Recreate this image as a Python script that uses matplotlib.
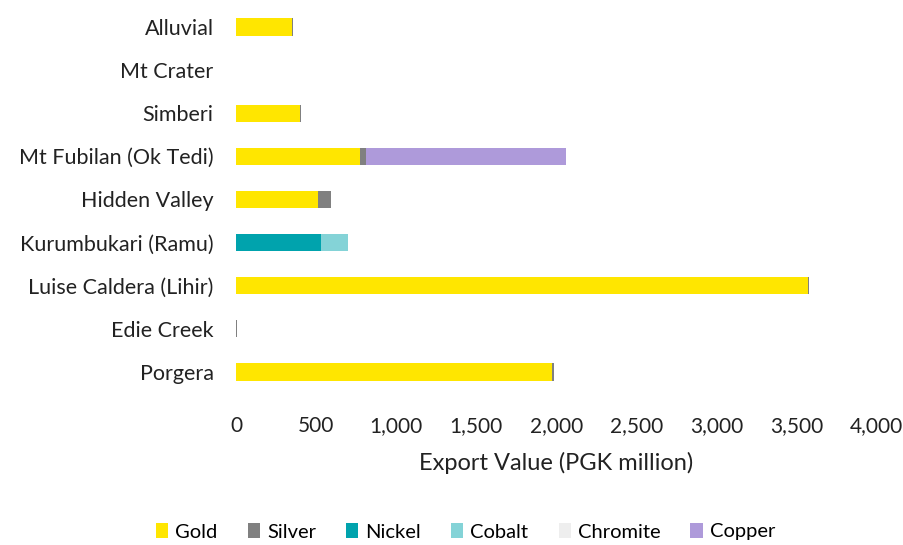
import numpy as np
import matplotlib.pyplot as plt

plt.rcParams['font.family'] = ['Lato', 'DejaVu Sans']

# mines, top to bottom as shown
mines = ['Alluvial', 'Mt Crater', 'Simberi', 'Mt Fubilan (Ok Tedi)', 'Hidden Valley',
         'Kurumbukari (Ramu)', 'Luise Caldera (Lihir)', 'Edie Creek', 'Porgera']

# export value, PGK million
gold = [348, 0, 398, 772, 515, 0, 3570, 2, 1975]
silver = [6, 0, 6, 40, 78, 0, 8, 4, 8]
nickel = [0, 0, 0, 0, 0, 528, 0, 0, 0]
cobalt = [0, 0, 0, 0, 0, 170, 0, 0, 0]
chromite = [0, 0, 0, 0, 0, 2, 0, 0, 0]
copper = [0, 0, 0, 1250, 0, 0, 0, 0, 0]

series = [('Gold', gold, '#FFE600'),
          ('Silver', silver, '#808080'),
          ('Nickel', nickel, '#00A3AD'),
          ('Cobalt', cobalt, '#84D3D7'),
          ('Chromite', chromite, '#EEEEEE'),
          ('Copper', copper, '#AE9ADA')]

fig = plt.figure(figsize=(9.04, 5.45), dpi=100)
ax = fig.add_axes([0.261, 0.278, 0.709, 0.712])

y = np.arange(len(mines))
left = np.zeros(len(mines))
for name, vals, col in series:
    vals = np.array(vals, dtype=float)
    ax.barh(y, vals, left=left, height=0.4, color=col, label=name)
    left += vals

ax.set_ylim(len(mines) - 0.5, -0.5)
ax.set_xlim(0, 4000)
ax.set_yticks(y)
ax.set_yticklabels(mines, fontsize=15.5, color='#222222')
ax.set_xticks(np.arange(0, 4001, 500))
ax.set_xticklabels([f'{v:,}' for v in range(0, 4001, 500)], fontsize=15, color='#222222')
ax.tick_params(axis='x', length=0, pad=16)
ax.tick_params(axis='y', length=0, pad=16)
for s in ax.spines.values():
    s.set_visible(False)
ax.set_xlabel('Export Value (PGK million)', fontsize=17, color='#222222', labelpad=12)

fig.legend(loc='lower center', ncol=6, bbox_to_anchor=(0.515, -0.025), frameon=False,
           fontsize=14.5, handlelength=0.6, handleheight=0.7, handletextpad=0.35,
           columnspacing=1.5)

fig.savefig('out.png', dpi=100)
